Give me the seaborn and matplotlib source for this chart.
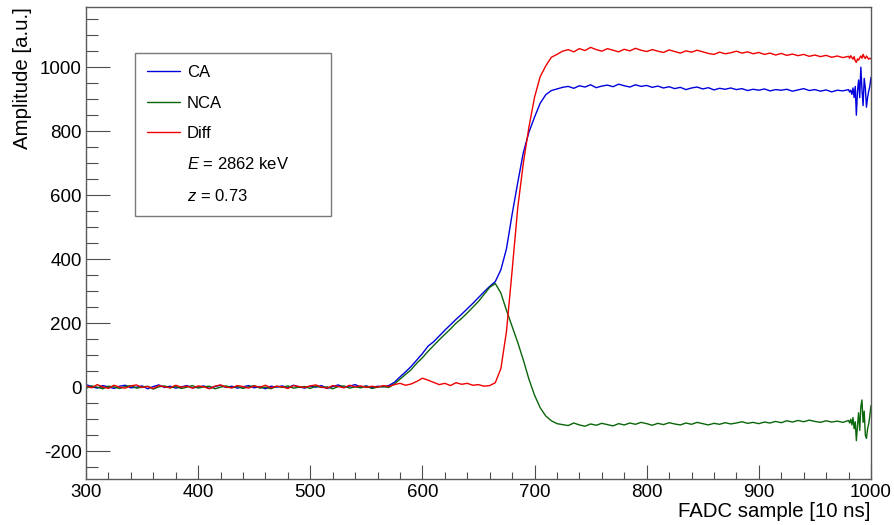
import numpy as np
import pandas as pd
import matplotlib
matplotlib.use("Agg")
import matplotlib.pyplot as plt
from matplotlib.lines import Line2D
from matplotlib.ticker import MultipleLocator
import seaborn as sns

# sample index (step 5, every sample near the noisy end)
samples = list(range(300, 980, 5)) + list(range(980, 1001))

ca = [8, 2, -3, 5, 1, -4, 3, 6, -2, 0, 4, -5, 2, 7, -1, 3, -3, 1, 5, -2,
      0, 4, -4, 2, 6, -1, 3, -3, 1, 5, -2, 2, -5, 3, 0, 4, -2, 6, 1, -3,
      3, 0, 5, -4, 2, 7, -1, 3, 8, 0, 4, -2, 3, 1, 5,
      15, 32, 48, 65, 85, 105, 128, 142, 160, 178, 195, 212, 228, 245, 262,
      280, 298, 315, 330, 367, 433, 540, 639, 733, 797, 844, 887, 914, 927, 932,
      937, 940, 934, 942, 938, 945, 936, 941, 944, 939, 947, 942, 938, 945, 940,
      943, 937, 941, 935, 939, 933, 937, 930, 935, 938, 932, 936, 929, 934, 931,
      935, 930, 933, 927, 931, 928, 932, 926, 930, 928, 931, 925, 929, 933, 927,
      930, 925, 929, 923, 928, 926,
      930, 922, 928, 915, 935, 905, 940, 850, 925, 960, 905, 1000, 930, 880, 965,
      935, 875, 905, 925, 940, 968]

nca = [-3, 4, 0, -5, 3, 1, -4, 2, 5, -3, 0, 3, -6, 1, 4, -2, 2, -4, 0, 5,
       -3, 1, 3, -5, 0, 4, -2, 2, -4, 1, 5, -3, 0, -5, 3, -1, 4, -3, 0, 2,
       -4, 3, -1, 1, -5, 2, 4, -3, 1, -2, 3, -4, 0, 2, -1,
       10, 25, 40, 55, 75, 92, 112, 130, 148, 165, 182, 200, 215, 232, 250,
       268, 290, 312, 324, 294, 240, 190, 140, 85, 25, -25, -64, -90, -105, -114,
       -117, -120, -112, -118, -122, -115, -119, -113, -117, -121, -114, -118, -112, -116, -110,
       -114, -119, -113, -117, -111, -115, -118, -112, -116, -110, -114, -118, -113, -116, -111,
       -115, -112, -108, -113, -110, -114, -109, -112, -107, -111, -105, -109, -104, -108, -103,
       -107, -110, -105, -109, -106, -110,
       -104, -112, -100, -118, -95, -130, -108, -167, -120, -80, -135, -60, -40, -110, -75,
       -150, -160, -130, -115, -90, -58]

diff = [5, -2, 8, 1, -4, 6, 0, -3, 4, 7, -1, 2, -4, 5, 1, -2, 6, 0, 3, -3,
        4, 1, -5, 3, 7, 0, -2, 5, 2, -3, 4, 0, 6, -2, 3, 1, -4, 5, 2, -1,
        4, 7, 0, -3, 5, 2, -2, 6, 1, 4, -1, 3, 0, 5, 2,
        8, 12, 6, 10, 18, 28, 22, 15, 8, 12, 5, 14, 9, 12, 6,
        8, 3, 5, 14, 58, 175, 364, 560, 700, 813, 906, 970, 1004, 1031, 1040,
        1050, 1055, 1048, 1058, 1052, 1062, 1055, 1050, 1058, 1053, 1048, 1056, 1051, 1059, 1053,
        1049, 1055, 1050, 1046, 1054, 1049, 1044, 1051, 1047, 1053, 1048, 1043, 1040, 1047, 1042,
        1045, 1050, 1044, 1048, 1042, 1046, 1040, 1044, 1038, 1043, 1037, 1041, 1036, 1040, 1034,
        1038, 1033, 1037, 1031, 1035, 1030,
        1034, 1028, 1036, 1030, 1025, 1033, 1020, 1015, 1026, 1022, 1030, 1035, 1028, 1040, 1032,
        1027, 1035, 1030, 1025, 1028, 1026]

series_names = ["CA", "NCA", "Diff"]
series_colors = ["#0000dd", "#0a660a", "#ee0000"]
energy_label = "$E$ = 2862 keV"
z_label = "$z$ = 0.73"

sns.set_theme(style="white")
plt.rcParams["font.family"] = ["Liberation Sans", "DejaVu Sans"]
plt.rcParams["mathtext.fontset"] = "custom"
plt.rcParams["mathtext.rm"] = "Liberation Sans"
plt.rcParams["mathtext.it"] = "Liberation Sans:italic"
plt.rcParams["axes.unicode_minus"] = False
plt.rcParams["text.color"] = "black"
plt.rcParams["axes.labelcolor"] = "black"
plt.rcParams["xtick.color"] = "black"
plt.rcParams["ytick.color"] = "black"

df = pd.DataFrame({"sample": samples, "CA": ca, "NCA": nca, "Diff": diff})
long_df = df.melt(id_vars="sample", var_name="signal", value_name="amplitude")

fig = plt.figure(figsize=(8.94, 5.25), dpi=100)
ax = fig.add_axes([0.0962, 0.0876, 0.878, 0.899])

sns.lineplot(data=long_df, x="sample", y="amplitude", hue="signal",
             hue_order=series_names, palette=series_colors,
             linewidth=1.0, ax=ax, legend=False)

ax.set_xlim(300, 1000)
ax.set_ylim(-287, 1188)

ax.xaxis.set_major_locator(MultipleLocator(100))
ax.xaxis.set_minor_locator(MultipleLocator(20))
ax.yaxis.set_major_locator(MultipleLocator(200))
ax.yaxis.set_minor_locator(MultipleLocator(50))

ax.tick_params(axis="both", which="both", direction="in", color="0.3",
               labelsize=13.5, bottom=True, left=True, top=False, right=False,
               labelcolor="black")
ax.tick_params(axis="x", which="major", length=9.8, width=0.8, pad=3.5)
ax.tick_params(axis="x", which="minor", length=5, width=0.8)
ax.tick_params(axis="y", which="major", length=17, width=0.8, pad=3)
ax.tick_params(axis="y", which="minor", length=8.5, width=0.8)

for sp in ax.spines.values():
    sp.set_color("0.35")
    sp.set_linewidth(1.0)

ax.set_xlabel("FADC sample [10 ns]", loc="right", fontsize=14.7, labelpad=1,
              color="black")
ax.set_ylabel("Amplitude [a.u.]", loc="top", fontsize=14.7, labelpad=6,
              color="black")

handles = [Line2D([], [], color=c, lw=1.0) for c in series_colors]
handles += [Line2D([], [], lw=0), Line2D([], [], lw=0)]
labels = series_names + [energy_label, z_label]
leg = ax.legend(handles, labels, loc="upper left",
                bbox_to_anchor=(0.0625, 0.902, 0.249, 0.0), mode="expand",
                fontsize=12, frameon=True, fancybox=False, borderpad=0.72,
                labelspacing=0.92, handlelength=1.95, handletextpad=0.45,
                borderaxespad=0)
leg.get_frame().set_edgecolor("0.35")
leg.get_frame().set_linewidth(1.0)
for t in leg.get_texts():
    t.set_color("black")

fig.savefig("out.png", dpi=100)
